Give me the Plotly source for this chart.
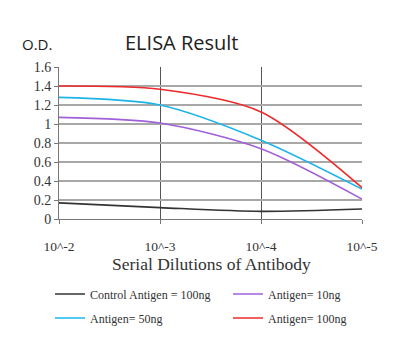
import plotly.graph_objects as go

x_labels = ["10^-2", "10^-3", "10^-4", "10^-5"]
x_pos = [0, 1, 2, 3]
y_ticks = [0, 0.2, 0.4, 0.6, 0.8, 1, 1.2, 1.4, 1.6]
y_ticklabels = ["0", "0.2", "0.4", "0.6", "0.8", "1", "1.2", "1.4", "1.6"]

control_100 = [0.17, 0.12, 0.08, 0.105]
antigen_10 = [1.07, 1.01, 0.74, 0.21]
antigen_50 = [1.28, 1.20, 0.83, 0.315]
antigen_100 = [1.40, 1.365, 1.127, 0.33]

series = [
    ("Control Antigen = 100ng", control_100, "#333333"),
    ("Antigen= 10ng", antigen_10, "#a060d8"),
    ("Antigen= 50ng", antigen_50, "#1eb4ea"),
    ("Antigen= 100ng", antigen_100, "#ee2a2a"),
]

serif = "Liberation Serif, Times New Roman, serif"
sans = "Open Sans, Liberation Sans, sans-serif"

L, R, T, B = 59, 38, 67, 124
W, H = 400, 343
plot_w = W - L - R
plot_h = H - T - B

def px_x(px):
    return (px - L) / plot_w

def px_y(py):
    return (H - B - py) / plot_h

legend_slots = [(50, 294), (228, 294), (50, 318), (228, 318)]
legend_ids = ["legend", "legend2", "legend3", "legend4"]

fig = go.Figure()
for (name, vals, col), lid in zip(series, legend_ids):
    fig.add_trace(go.Scatter(
        x=x_pos, y=vals, name=name, mode="lines", legend=lid,
        line=dict(color=col, width=1.6, shape="spline", smoothing=0.8),
    ))

legend_style = dict(
    orientation="h", xanchor="left", yanchor="middle",
    font=dict(family=serif, size=12, color="#333333"),
    itemwidth=30, bgcolor="rgba(0,0,0,0)",
)
legends = {}
for lid, (lx, ly) in zip(legend_ids, legend_slots):
    legends[lid] = dict(legend_style, x=px_x(lx), y=px_y(ly))

fig.update_layout(
    width=W, height=H,
    margin=dict(l=L, r=R, t=T, b=B, autoexpand=False),
    paper_bgcolor="white", plot_bgcolor="white",
    showlegend=True,
    annotations=[
        dict(text="ELISA Result", x=px_x(182), y=px_y(42), xref="paper", yref="paper",
             xanchor="center", yanchor="middle",
             showarrow=False, font=dict(family=sans, size=20, color="#222222")),
        dict(text="O.D.", x=px_x(37), y=px_y(44), xref="paper", yref="paper",
             xanchor="center", yanchor="middle",
             showarrow=False, font=dict(family=sans, size=15, color="#222222")),
        dict(text="Serial Dilutions of Antibody", x=px_x(211), y=px_y(264),
             xref="paper", yref="paper", xanchor="center", yanchor="middle",
             showarrow=False, font=dict(family=serif, size=17.5, color="#333333")),
    ],
    **legends,
)

fig.update_xaxes(
    range=[0, 3], tickvals=x_pos, ticktext=x_labels,
    showgrid=True, gridcolor="#555555", gridwidth=1,
    showline=True, linecolor="#777777", linewidth=1,
    ticks="outside", ticklen=4, tickcolor="#777777",
    ticklabelstandoff=11,
    tickfont=dict(family=serif, size=13.5, color="#333333"),
    zeroline=False, automargin=False,
)
fig.update_yaxes(
    range=[0, 1.6], tickvals=y_ticks, ticktext=y_ticklabels,
    showgrid=True, gridcolor="#a8a8a8", gridwidth=1.5,
    showline=True, linecolor="#777777", linewidth=1,
    ticks="outside", ticklen=4, tickcolor="#777777",
    tickfont=dict(family=serif, size=14, color="#333333"),
    zeroline=False, automargin=False,
)

fig.write_html("out.html")
